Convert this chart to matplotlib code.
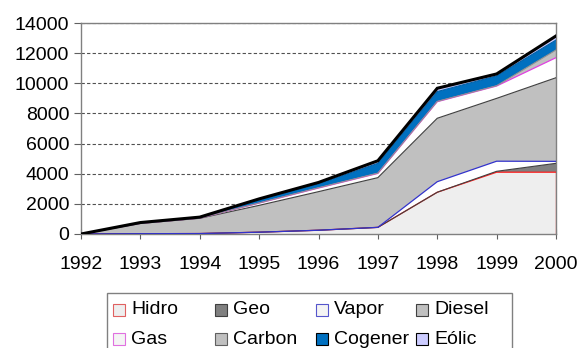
import numpy as np
import matplotlib.pyplot as plt
from matplotlib.patches import Rectangle

plt.rcParams['font.family'] = ['Liberation Sans', 'DejaVu Sans']

# Installed capacity by source (stacked)
years = [1992, 1993, 1994, 1995, 1996, 1997, 1998, 1999, 2000]
hidro = [0, 20, 30, 120, 250, 440, 2770, 4100, 4100]
geo = [0, 0, 0, 0, 0, 0, 0, 60, 590]
vapor = [0, 0, 0, 0, 0, 0, 700, 670, 130]
diesel = [0, 680, 1010, 1780, 2560, 3300, 4210, 4170, 5550]
gas = [0, 10, 20, 150, 240, 280, 1100, 820, 1330]
carbon = [0, 0, 0, 10, 20, 20, 20, 20, 510]
cogener = [0, 20, 30, 190, 250, 650, 650, 650, 660]
eolic = [0, 30, 30, 80, 100, 170, 220, 130, 270]

labels = ['Hidro', 'Geo', 'Vapor', 'Diesel', 'Gas', 'Carbon', 'Cogener', 'Eólic']
faces = ['#eeeeee', '#808080', '#ffffff', '#c0c0c0', '#ffffff', '#c0c0c0', '#0070c0', '#ccccff']
tops = ['#ff2020', '#404040', '#3333cc', '#404040', '#e040e0', '#909090', '#0060a8', '#000000']
top_w = [0.9, 0.8, 0.9, 0.8, 0.9, 0.8, 0.8, 2.2]
boxes = ['#e06060', '#404040', '#5555cc', '#404040', '#e070e0', '#606060', '#000000', '#000000']

fig = plt.figure(figsize=(5.83, 3.48), dpi=100)
ax = fig.add_axes([81 / 583, 1 - 234 / 348, 475 / 583, 211 / 348])

series = [hidro, geo, vapor, diesel, gas, carbon, cogener, eolic]
ax.stackplot(years, *series, colors=faces, linewidth=0, zorder=2)
cum = np.cumsum(np.array(series), axis=0)
for c, col, lw in zip(cum, tops, top_w):
    ax.plot(years, c, color=col, linewidth=lw, zorder=3, solid_joinstyle='miter')
ax.plot([2000, 2000], [0, cum[0][-1]], color=tops[0], linewidth=0.9, zorder=3)

ax.set_xlim(1992, 2000)
ax.set_ylim(0, 14000)
ax.set_xticks(years)
ax.set_yticks(range(0, 14001, 2000))
ax.tick_params(axis='both', labelsize=14, color='#606060', length=5)
ax.tick_params(axis='x', direction='inout', length=7, pad=12)
ax.yaxis.grid(True, linestyle=(0, (3, 2)), color='#505050', linewidth=0.8, zorder=1)
ax.set_axisbelow(True)
for s in ax.spines.values():
    s.set_color('#808080')
    s.set_linewidth(1.0)

# legend drawn by hand: Excel-style equal width columns
px = lambda x, y: (x / 583, 1 - y / 348)
fig.patches.append(Rectangle(px(107, 356), 405 / 583, 63 / 348, transform=fig.transFigure,
                             facecolor='white', edgecolor='#808080', linewidth=1.0))
col_x = [113, 215, 316, 416]
row_y = [310, 339]
for i, lab in enumerate(labels):
    x = col_x[i % 4]
    y = row_y[i // 4]
    fig.patches.append(Rectangle(px(x, y + 6), 12 / 583, 12 / 348, transform=fig.transFigure,
                                 facecolor=faces[i] if faces[i] != '#ffffff' else '#f4f4f4',
                                 edgecolor=boxes[i], linewidth=0.8))
    fig.text(*px(x + 18, y), lab, fontsize=14, va='center', ha='left')

fig.savefig('out.png', dpi=100)
